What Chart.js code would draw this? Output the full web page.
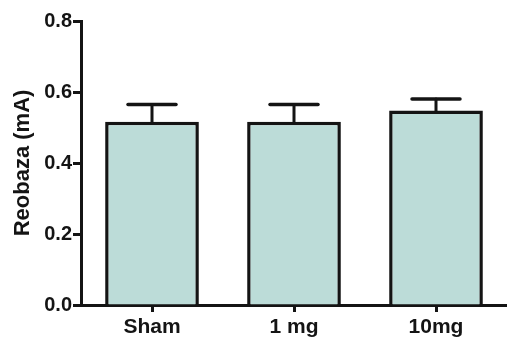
<!DOCTYPE html>
<html>
<head>
<meta charset="utf-8">
<script src="https://cdn.jsdelivr.net/npm/chart.js@4/dist/chart.umd.min.js"></script>
<style>
  html, body { margin: 0; padding: 0; background: #ffffff; }
  #wrap { width: 507px; height: 339px; }
</style>
</head>
<body>
<div id="wrap"><canvas id="c" width="507" height="339"></canvas></div>
<script>
const categories = ['Sham', '1 mg', '10mg'];
const means = [0.516, 0.516, 0.548];
const upperErrors = [0.565, 0.565, 0.580];
const yTickLabels = ['0.0', '0.2', '0.4', '0.6', '0.8'];
const yTitle = 'Reobaza (mA)';

const ink = '#141414';
const fontFam = '"Liberation Sans", Arial, Helvetica, sans-serif';

const errorBars = {
  id: 'errorBars',
  afterDatasetsDraw(chart) {
    const ctx = chart.ctx;
    const meta = chart.getDatasetMeta(0);
    const y = chart.scales.y;
    ctx.save();
    ctx.strokeStyle = ink;
    ctx.lineCap = 'round';
    meta.data.forEach((bar, i) => {
      const x = bar.x;
      const yTop = y.getPixelForValue(means[i]);
      const yErr = y.getPixelForValue(upperErrors[i]);
      ctx.lineWidth = 3;
      ctx.beginPath();
      ctx.moveTo(x, yTop);
      ctx.lineTo(x, yErr);
      ctx.stroke();
      ctx.lineWidth = 3.5;
      ctx.beginPath();
      ctx.moveTo(x - 24, yErr);
      ctx.lineTo(x + 24, yErr);
      ctx.stroke();
    });
    ctx.restore();
  }
};

new Chart(document.getElementById('c'), {
  type: 'bar',
  data: {
    labels: categories,
    datasets: [{
      data: means,
      backgroundColor: '#bcdcd8',
      borderColor: ink,
      borderWidth: 3.5,
      borderSkipped: 'start',
      barPercentage: 0.66,
      categoryPercentage: 1.0
    }]
  },
  options: {
    responsive: false,
    animation: false,
    devicePixelRatio: 1,
    layout: { padding: { top: 21, right: 0, bottom: 0, left: 0 } },
    plugins: { legend: { display: false }, tooltip: { enabled: false } },
    scales: {
      x: {
        offset: true,
        grid: { display: true, offset: false, drawOnChartArea: false, drawTicks: true, tickLength: 7, tickWidth: 3, tickColor: ink },
        border: { display: true, color: ink, width: 3 },
        ticks: { color: ink, font: { family: fontFam, size: 21, weight: 'bold' }, padding: 3, maxRotation: 0 },
        afterFit(scale) { scale.height = 34; }
      },
      y: {
        min: 0, max: 0.8,
        grid: { display: true, drawOnChartArea: false, drawTicks: true, tickLength: 8, tickWidth: 3, tickColor: ink },
        border: { display: true, color: ink, width: 3 },
        ticks: {
          stepSize: 0.2,
          color: ink,
          font: { family: fontFam, size: 20, weight: 'bold' },
          padding: 1,
          callback: (v, i) => yTickLabels[i]
        },
        title: {
          display: true,
          text: yTitle,
          color: ink,
          font: { family: fontFam, size: 22, weight: 'bold' },
          padding: { top: 10, bottom: 0 }
        },
        afterFit(scale) { scale.width = 81; }
      }
    }
  },
  plugins: [errorBars]
});
</script>
</body>
</html>
